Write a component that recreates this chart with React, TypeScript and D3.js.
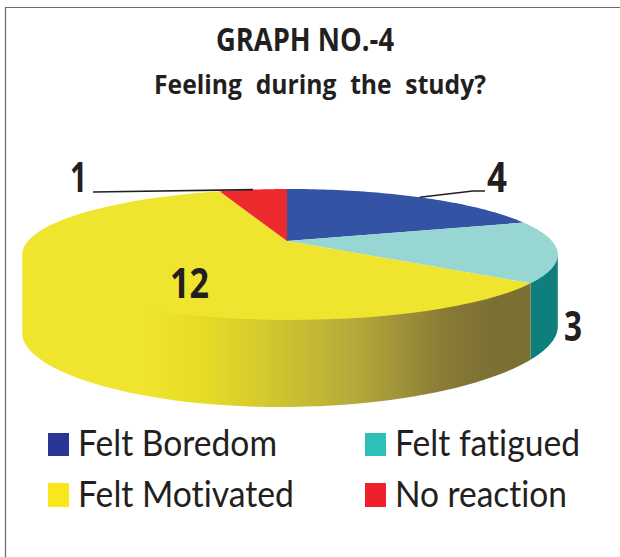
import React from "react";
import * as d3 from "d3";

const categories = ["Felt Boredom", "Felt fatigued", "Felt Motivated", "No reaction"];
const values = [4, 3, 12, 1];
const topColors = ["#3354a5", "#97d6d3", "#f0e52e", "#ed2a2e"];
const legendColors = ["#2b3595", "#2ebfb7", "#f9e71e", "#ee2029"];
const sideTeal = "#0f7f7e";
const sideStops: [number, string][] = [
  [0, "#f0e52e"], [0.12, "#f0e52e"], [0.25, "#e8dc25"], [0.4, "#d3c82e"], [0.6, "#b5aa3a"], [0.8, "#8a7c36"], [0.92, "#7b6f34"], [1, "#7b6f34"],
];

const W = 620, H = 557;
const apex = { x: 287, y: 241 };
const R = 262, VR = 62.7, K = 0.206, M = -0.011;

const project = (a: number, r = 1): [number, number] => {
  const X = Math.sin(a) * r, Y = Math.cos(a) * r;
  const s = 1 / (1 + K * Y + M * X);
  return [apex.x + R * X * s, apex.y - VR * Y * s];
};
// the rim is a little shallower at the sides of the disc than at its nearest point
const depthAt = (a: number) => 75 + 12 * Math.cos(a) ** 2 - 3.5 * Math.sin(a);

const arcs = d3.pie<number>().sort(null)(values);
const widestR = Math.acos(-K);
const widestL = 2 * Math.PI - widestR;
const line = d3.line();
const angles = (a0: number, a1: number) => d3.range(0, 61).map((i) => a0 + ((a1 - a0) * i) / 60);
const sample = (a0: number, a1: number) => angles(a0, a1).map((a) => project(a));

const topPath = (a0: number, a1: number) =>
  line([[apex.x, apex.y], ...sample(a0, a1)]) + "Z";

const sidePath = (a0: number, a1: number) => {
  const s = Math.max(a0, widestR), e = Math.min(a1, widestL);
  if (e <= s) return null;
  const as = angles(s, e);
  // the upper edge runs slightly under the top face so no seam shows between them
  const upper = as.map((a, i) => {
    const [x, y] = project(a);
    const atRim = (a === widestR) || (i === as.length - 1 && e === widestL);
    return [x, atRim ? y : y - 2] as [number, number];
  });
  const lower = as.slice().reverse().map((a) => {
    const [x, y] = project(a);
    return [x, y + depthAt(a)] as [number, number];
  });
  return line([...upper, ...lower]) + "Z";
};

const midAngle = (i: number) => (arcs[i].startAngle + arcs[i].endAngle) / 2;

const textStyle: React.CSSProperties = { fill: "#231f20", fontVariantLigatures: "none" };
const legendRows = [
  { i: 0, x: 48, tx: 78, w: 199, y: 433, h: 23, base: 456 },
  { i: 1, x: 365, tx: 395, w: 185, y: 433, h: 23, base: 456 },
  { i: 2, x: 48, tx: 78, w: 216, y: 483, h: 24, base: 507 },
  { i: 3, x: 365, tx: 395, w: 172, y: 483, h: 24, base: 507 },
];
const numFont = { fontFamily: "'Open Sans'", fontWeight: 700, fontSize: 42, textAnchor: "middle" as const, lengthAdjust: "spacingAndGlyphs" };

export default function App() {
  const p1 = project(midAngle(3));
  const p4 = project(midAngle(0));
  return (
    <svg width={W} height={H} style={{ position: "absolute", left: 0, top: 0, background: "#fff" }}>
      <defs>
        <linearGradient id="sideGrad" gradientUnits="userSpaceOnUse" x1={90} x2={530} y1={0} y2={0}>
          {sideStops.map(([o, c]) => <stop key={o} offset={o} stopColor={c} />)}
        </linearGradient>
      </defs>
      <path d="M5.5 557V7.5H620" fill="none" stroke="#6b6b6b" strokeWidth={1.2} />
      <text x={305} y={51} textAnchor="middle" textLength={178} lengthAdjust="spacingAndGlyphs"
        fontFamily="'Open Sans'" fontWeight={700} fontSize={32} style={textStyle}>GRAPH NO.-4</text>
      <text x={320} y={94} textAnchor="middle" textLength={332} lengthAdjust="spacingAndGlyphs"
        fontFamily="'Open Sans'" fontWeight={700} fontSize={27} style={{ ...textStyle, wordSpacing: 8 }}>Feeling during the study?</text>

      {arcs.map((d, i) => {
        const path = sidePath(d.startAngle, d.endAngle);
        if (!path) return null;
        return <path key={i} d={path} fill={i === 1 ? sideTeal : i === 2 ? "url(#sideGrad)" : topColors[i]} />;
      })}
      {arcs.map((d, i) => <path key={i} d={topPath(d.startAngle, d.endAngle)} fill={topColors[i]} />)}

      <path d={line([[93, 192], p1])!} stroke="#231f20" strokeWidth={1.6} fill="none" />
      <path d={line([p4, [473, 191], [485, 191]])!} stroke="#231f20" strokeWidth={1.6} fill="none" />
      <text x={78.5} y={192} textLength={17} {...numFont} style={textStyle}>{values[3]}</text>
      <text x={497} y={192} textLength={20} {...numFont} style={textStyle}>{values[0]}</text>
      <text x={573} y={341} textLength={18} {...numFont} style={textStyle}>{values[1]}</text>
      <text x={189.5} y={298} textLength={39} {...numFont} style={textStyle}>{values[2]}</text>

      {legendRows.map((r) => (
        <g key={r.i}>
          <rect x={r.x} y={r.y} width={21} height={r.h} fill={legendColors[r.i]} />
          <text x={r.tx} y={r.base} textLength={r.w} lengthAdjust="spacingAndGlyphs" fontFamily="Lato" fontSize={36} style={textStyle}>{categories[r.i]}</text>
        </g>
      ))}
    </svg>
  );
}
